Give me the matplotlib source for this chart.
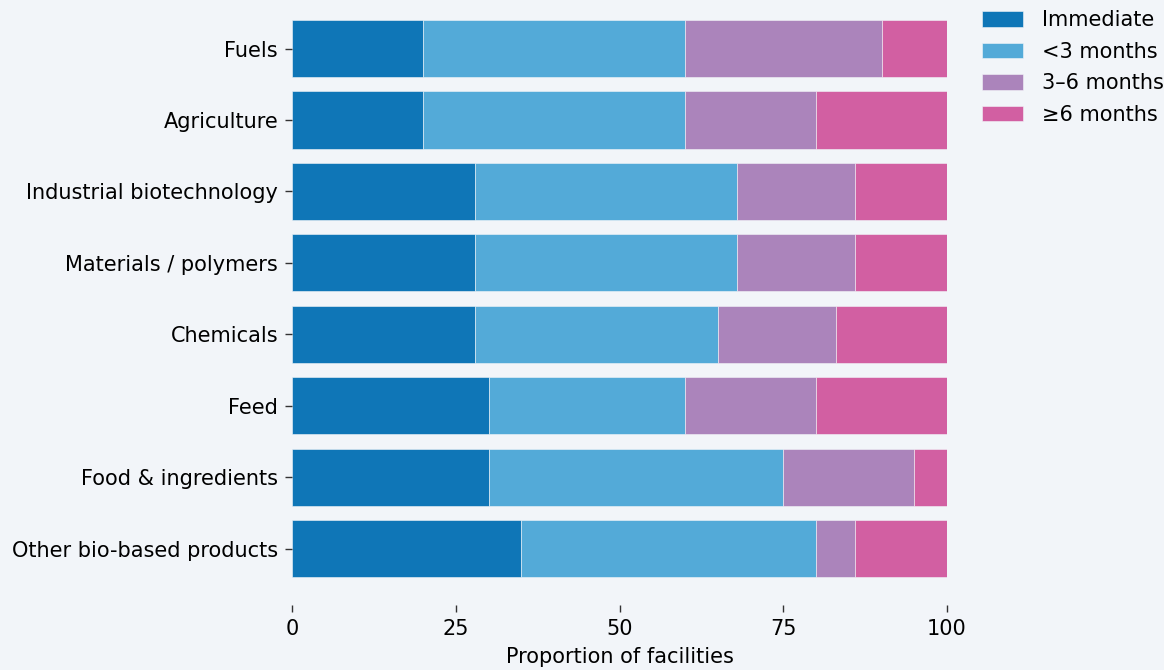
import matplotlib
matplotlib.use("Agg")
import matplotlib.pyplot as plt
import numpy as np

categories = ["Fuels", "Agriculture", "Industrial biotechnology", "Materials / polymers",
              "Chemicals", "Feed", "Food & ingredients", "Other bio-based products"]
series_names = ["Immediate", "<3 months", "3\u20136 months", "\u22656 months"]
immediate = [20, 20, 28, 28, 28, 30, 30, 35]
under_3 = [40, 40, 40, 40, 37, 30, 45, 45]
three_to_six = [30, 20, 18, 18, 18, 20, 20, 6]
six_plus = [10, 20, 14, 14, 17, 20, 5, 14]
colors = ["#0f76b7", "#53aad8", "#ab84bb", "#d25fa2"]
xticks = [0, 25, 50, 75, 100]

bg = "#f2f5f9"
fs = 15
plt.rcParams["font.family"] = ["DejaVu Sans"]
fig = plt.figure(figsize=(11.64, 6.70), dpi=100, facecolor=bg)
ax = fig.add_axes([292 / 1164, 1 - 605 / 670, (947 - 292) / 1164, (605 - 20) / 670])
ax.set_facecolor(bg)

y = np.arange(len(categories))
left = np.zeros(len(categories))
for name, vals, c in zip(series_names, [immediate, under_3, three_to_six, six_plus], colors):
    ax.barh(y, vals, left=left, height=0.8, color=c, label=name, edgecolor=bg, linewidth=0.4)
    left += np.array(vals)

ax.set_xlim(0, 100)
ax.set_ylim(7.79, -0.4)
ax.set_yticks(y)
ax.set_yticklabels(categories, fontsize=fs)
ax.set_xticks(xticks)
ax.set_xticklabels([str(t) for t in xticks], fontsize=fs)
ax.set_xlabel("Proportion of facilities", fontsize=fs, labelpad=6)
for s in ax.spines.values():
    s.set_visible(False)
ax.tick_params(axis="both", length=5, width=1.0, color="#333333", pad=5)

ax.legend(loc="upper left", bbox_to_anchor=(974 / 1164, 1 - 2 / 670), bbox_transform=fig.transFigure,
          frameon=False, fontsize=fs, handlelength=1.95, handleheight=0.75, handletextpad=0.9,
          labelspacing=0.55, borderaxespad=0)

fig.savefig("out.png", dpi=100, facecolor=bg)
